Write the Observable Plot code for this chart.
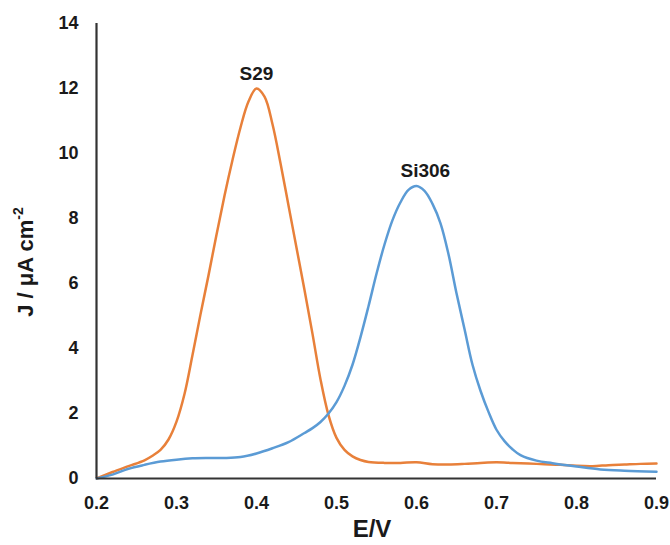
<!DOCTYPE html>
<html>
<head>
<meta charset="utf-8">
<script src="https://cdn.jsdelivr.net/npm/d3@7"></script>
<script src="https://cdn.jsdelivr.net/npm/@observablehq/plot@0.6"></script>
<style>
  html, body { margin: 0; padding: 0; background: #ffffff; }
  #chart { width: 670px; height: 545px; }
</style>
</head>
<body>
<div id="chart"></div>
<script>
// ---- data ----
const eS29 = [0.20, 0.22, 0.24, 0.26, 0.27, 0.28, 0.29, 0.30, 0.31, 0.32, 0.33, 0.34, 0.35, 0.36, 0.37, 0.38, 0.39, 0.40,
              0.41, 0.42, 0.43, 0.44, 0.45, 0.46, 0.47, 0.48, 0.49, 0.50, 0.51, 0.52, 0.53, 0.54, 0.56, 0.58, 0.60,
              0.62, 0.64, 0.66, 0.68, 0.70, 0.72, 0.74, 0.76, 0.78, 0.80, 0.82, 0.84, 0.86, 0.88, 0.90];
const jS29 = [0.0, 0.2, 0.38, 0.56, 0.7, 0.88, 1.2, 1.75, 2.6, 3.8, 5.05, 6.25, 7.5, 8.7, 9.8, 10.8, 11.6, 12.0,
              11.75, 10.9, 9.7, 8.4, 7.1, 5.8, 4.45, 3.05, 1.95, 1.25, 0.88, 0.68, 0.57, 0.51, 0.48, 0.48, 0.5,
              0.44, 0.43, 0.45, 0.48, 0.5, 0.48, 0.46, 0.44, 0.42, 0.39, 0.38, 0.41, 0.43, 0.45, 0.46];

const eSi306 = [0.20, 0.22, 0.24, 0.26, 0.28, 0.30, 0.32, 0.34, 0.36, 0.38, 0.40, 0.42, 0.44, 0.46, 0.47, 0.48, 0.49,
                0.50, 0.51, 0.52, 0.53, 0.54, 0.55, 0.56, 0.57, 0.58, 0.59, 0.60, 0.61, 0.62, 0.63, 0.64, 0.65,
                0.66, 0.67, 0.68, 0.69, 0.70, 0.71, 0.72, 0.73, 0.75, 0.77, 0.80, 0.83, 0.86, 0.90];
const jSi306 = [0.0, 0.12, 0.3, 0.42, 0.52, 0.58, 0.62, 0.63, 0.63, 0.66, 0.77, 0.93, 1.12, 1.4, 1.55, 1.74, 2.0,
                2.35, 2.85, 3.5, 4.35, 5.3, 6.3, 7.2, 7.95, 8.5, 8.88, 9.0, 8.85, 8.45, 7.85, 6.9, 5.7,
                4.6, 3.5, 2.7, 2.05, 1.5, 1.15, 0.9, 0.72, 0.55, 0.47, 0.37, 0.28, 0.24, 0.21];

const seriesNames = ["S29", "Si306"];
const seriesColors = ["#E8803A", "#5B9BD5"];
const peakLabelE = [0.40, 0.611];
const peakLabelJ = [12.0, 9.0];

const xTicks = [0.2, 0.3, 0.4, 0.5, 0.6, 0.7, 0.8, 0.9];
const yTicks = [0, 2, 4, 6, 8, 10, 12, 14];
const xTitle = "E/V";
const yTitleMain = "J / μA cm";
const yTitleSup = "-2";

// ---- build tables ----
const rows = [
  ...eS29.map((e, i) => ({series: "S29", e, j: jS29[i]})),
  ...eSi306.map((e, i) => ({series: "Si306", e, j: jSi306[i]}))
];
const peakLabels = seriesNames.map((name, i) => ({name, e: peakLabelE[i], j: peakLabelJ[i]}));

const FONT = "'Liberation Sans', Arial, Helvetica, sans-serif";

const chart = Plot.plot({
  width: 670,
  height: 545,
  marginLeft: 96,
  marginRight: 14,
  marginTop: 23,
  marginBottom: 67,
  style: {fontFamily: FONT, fontWeight: "bold", fontSize: "18px", background: "#ffffff", color: "#1a1a1a"},
  x: {domain: [0.2, 0.9]},
  y: {domain: [0, 14]},
  color: {domain: seriesNames, range: seriesColors},
  marks: [
    Plot.axisY(yTicks, {tickSize: 0, tickPadding: 18, label: null, fontSize: 18, fontWeight: "bold"}),
    Plot.axisX(xTicks, {tickSize: 0, tickPadding: 18, label: null, fontSize: 18, fontWeight: "bold",
                        tickFormat: d => d.toFixed(1)}),
    Plot.line(rows, {x: "e", y: "j", z: "series", stroke: "series", strokeWidth: 2.5, curve: "catmull-rom"}),
    Plot.ruleX([0.2], {stroke: "#333333", strokeWidth: 2.2}),
    Plot.ruleY([0], {stroke: "#333333", strokeWidth: 2.2}),
    Plot.text(peakLabels, {x: "e", y: "j", text: "name", dy: -15, fontSize: 19, fontWeight: "bold", fill: "#1a1a1a"})
  ]
});

const svg = d3.select(chart);
// y axis title with superscript
const yt = svg.append("text")
  .attr("transform", "translate(27,262) rotate(-90)")
  .attr("text-anchor", "middle")
  .attr("dominant-baseline", "middle")
  .style("font-family", FONT)
  .style("font-weight", "bold")
  .style("font-size", "22px")
  .attr("fill", "#1a1a1a");
yt.append("tspan").text(yTitleMain);
yt.append("tspan").attr("dy", "-8").style("font-size", "14px").text(yTitleSup);

// x axis title
svg.append("text")
  .attr("x", 372)
  .attr("y", 537)
  .attr("text-anchor", "middle")
  .style("font-family", FONT)
  .style("font-weight", "bold")
  .style("font-size", "24px")
  .attr("fill", "#1a1a1a")
  .text(xTitle);

document.getElementById("chart").appendChild(chart);
</script>
</body>
</html>
